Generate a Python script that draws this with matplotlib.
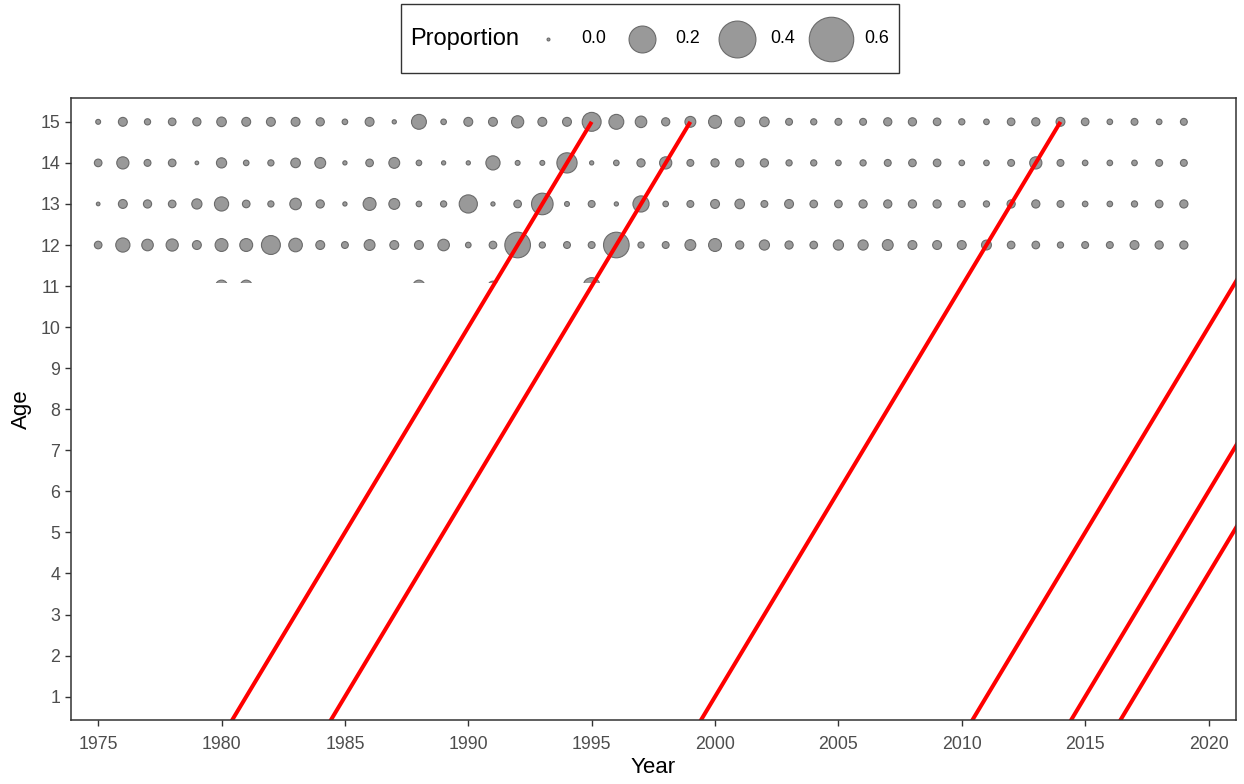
import numpy as np
import matplotlib
matplotlib.use("Agg")
import matplotlib.pyplot as plt
from matplotlib.lines import Line2D
from matplotlib.offsetbox import HPacker

plt.rcParams["font.family"] = ["Liberation Sans", "DejaVu Sans"]

# ---- data ----
years = np.arange(1975, 2020)
ages = [15, 14, 13, 12]

prop_age15 = [0.0014, 0.0125, 0.0038, 0.0077, 0.0097, 0.0156, 0.0125, 0.0125, 0.0125, 0.0097,
              0.0025, 0.0125, 0.0006, 0.050, 0.0025, 0.0125, 0.0125, 0.030, 0.0125, 0.0125,
              0.089, 0.050, 0.026, 0.0097, 0.022, 0.035, 0.0156, 0.0156, 0.0055, 0.0038,
              0.0055, 0.0055, 0.0097, 0.0097, 0.0077, 0.0038, 0.0025, 0.0077, 0.0097, 0.0125,
              0.0077, 0.0025, 0.0055, 0.0025, 0.0055]
prop_age14 = [0.0077, 0.030, 0.0055, 0.0077, 0.0002, 0.0185, 0.0025, 0.0038, 0.0156, 0.022,
              0.0006, 0.0077, 0.022, 0.0025, 0.0006, 0.0006, 0.0443, 0.0014, 0.0014, 0.104,
              0.0006, 0.0025, 0.0097, 0.030, 0.0055, 0.0097, 0.0097, 0.0097, 0.0038, 0.0038,
              0.0025, 0.0038, 0.0055, 0.0077, 0.0077, 0.0025, 0.0025, 0.0055, 0.030, 0.0055,
              0.0025, 0.0025, 0.0025, 0.0055, 0.0055]
prop_age13 = [0.0002, 0.0125, 0.0097, 0.0077, 0.0185, 0.0443, 0.0077, 0.0038, 0.026, 0.0097,
              0.0006, 0.035, 0.022, 0.0025, 0.0038, 0.081, 0.0006, 0.0077, 0.121, 0.0014,
              0.0055, 0.0006, 0.061, 0.0025, 0.0055, 0.0125, 0.0156, 0.0055, 0.0125, 0.0077,
              0.0077, 0.0097, 0.0097, 0.0097, 0.0097, 0.0055, 0.0038, 0.0097, 0.0097, 0.0055,
              0.0025, 0.0025, 0.0038, 0.0077, 0.0097]
prop_age12 = [0.0077, 0.0443, 0.026, 0.030, 0.0125, 0.0347, 0.0347, 0.089, 0.0397, 0.0125,
              0.0055, 0.022, 0.0125, 0.0125, 0.026, 0.0025, 0.0077, 0.179, 0.0038, 0.0055,
              0.0055, 0.179, 0.0038, 0.0055, 0.022, 0.0347, 0.0097, 0.0185, 0.0097, 0.0077,
              0.0185, 0.0185, 0.022, 0.0125, 0.0125, 0.0125, 0.017, 0.0077, 0.0077, 0.0038,
              0.0055, 0.0055, 0.0125, 0.0097, 0.0097]
# age 11 is mostly hidden in the reference; only these tops show
age11_years = [1980, 1981, 1988, 1991, 1995]
prop_age11 = [0.028, 0.028, 0.028, 0.017, 0.068]

# cohorts followed by the red lines (birth year)
cohorts = [1980, 1984, 1999, 2010, 2014, 2016]
cohort_ages = [0, 15]

legend_values = [0.0, 0.2, 0.4, 0.6]

# ---- size scale: diameter (px) = 4 + 53.7*sqrt(p), like an area scale ----
DPI = 100
EDGE_LW = 0.8


def diam_pt(p):
    return (4 + 53.7 * np.sqrt(np.asarray(p, dtype=float))) * 72 / DPI


def marker_area(p):
    return (diam_pt(p) - EDGE_LW) ** 2


fig = plt.figure(figsize=(12.44, 7.84), dpi=DPI)
ax = fig.add_axes([0.0567, 0.0810, 0.9370, 0.7945])

face, edge = "#999999", "#6b6b6b"
rows = [prop_age15, prop_age14, prop_age13, prop_age12]
for age, props in zip(ages, rows):
    ax.scatter(years, np.full(len(years), age), s=marker_area(props),
               facecolor=face, edgecolor=edge, linewidth=EDGE_LW, zorder=2)
ax.scatter(age11_years, np.full(len(age11_years), 11), s=marker_area(prop_age11),
           facecolor=face, edgecolor=edge, linewidth=EDGE_LW, zorder=2)

ylo, yhi = 0.42, 15.59
# the lower part of the panel is blanked in the reference
ax.axhspan(ylo, 11.08, color="white", zorder=2.2, lw=0)

for b in cohorts:
    ax.plot([b + a for a in cohort_ages], cohort_ages, color="red", lw=2.9,
            solid_capstyle="butt", zorder=4)

ax.set_xlim(1973.88, 2021.12)
ax.set_ylim(ylo, yhi)
ax.set_xticks(np.arange(1975, 2021, 5))
ax.set_yticks(np.arange(1, 16))
ax.tick_params(axis="both", direction="out", length=4.3, width=1, color="#333333",
               labelcolor="#4D4D4D", labelsize=12.8)
ax.tick_params(axis="x", pad=7)
ax.tick_params(axis="y", pad=3)
for sp in ax.spines.values():
    sp.set_color("#333333")
    sp.set_linewidth(1.1)
    sp.set_zorder(5)
ax.set_xlabel("Year", fontsize=16, labelpad=2.5)
ax.set_ylabel("Age", fontsize=16, labelpad=6)

# ---- legend with title on the left ----
LEG_FS = 12.8
HH = 3.95
handles = [Line2D([], [], ls="none", marker="o", markersize=diam_pt(v) - EDGE_LW,
                  markerfacecolor=face, markeredgecolor=edge, markeredgewidth=EDGE_LW)
           for v in legend_values]
labels = [f"{v:.1f}" for v in legend_values]
leg = fig.legend(handles, labels, ncol=4, title="Proportion", loc="upper left",
                 bbox_to_anchor=(0.3223, 0.9949), frameon=True, fancybox=False,
                 edgecolor="black", fontsize=LEG_FS, title_fontsize=17,
                 handlelength=2.62, handleheight=HH, handletextpad=0.55,
                 columnspacing=0.75, borderpad=0.39, borderaxespad=0)
leg.get_frame().set_linewidth(1.0)
# centre the labels on their keys, and the keys in their boxes
for col in leg._legend_handle_box.get_children():
    for item in col.get_children():
        item.align = "center"
key_descent = 0.35 * LEG_FS * (HH - 0.7)
for h in leg.legend_handles:
    h.set_ydata(np.asarray(h.get_ydata()) - key_descent / 2)
fs = leg._fontsize * DPI / 72
leg._legend_box = HPacker(pad=leg.borderpad * fs, sep=0.2 * fs, align="center",
                          children=[leg._legend_title_box, leg._legend_handle_box])
leg._legend_box.set_figure(fig)
leg._legend_box.axes = leg.axes
leg.set_loc("upper left")

fig.savefig("out.png", dpi=DPI)
